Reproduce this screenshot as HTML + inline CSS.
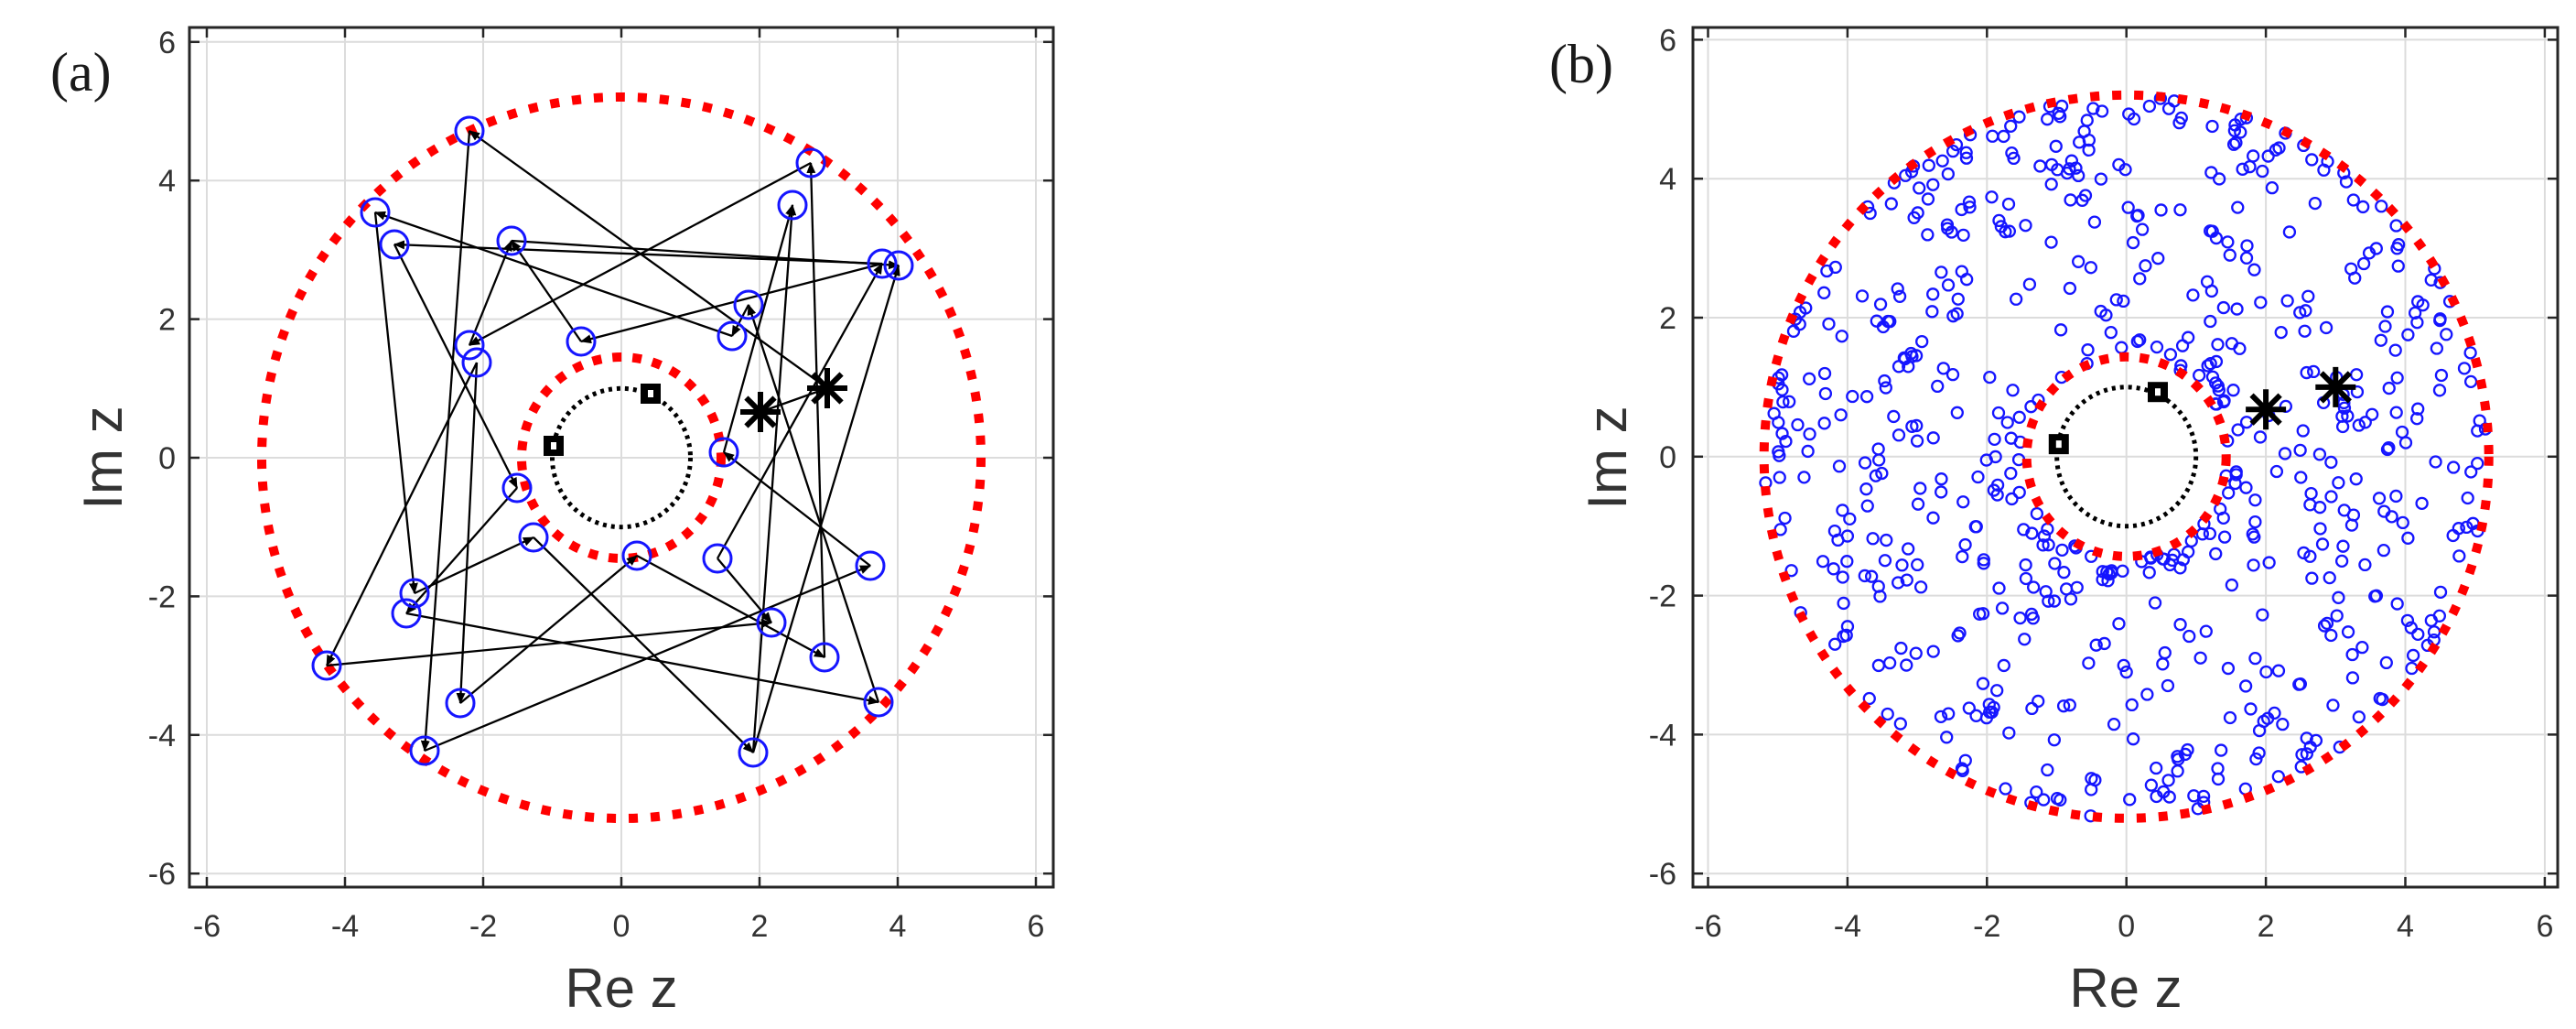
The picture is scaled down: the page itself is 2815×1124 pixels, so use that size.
<!DOCTYPE html>
<html><head><meta charset="utf-8"><style>
html,body{margin:0;padding:0;background:#fff;}
svg{display:block;}
text{font-family:"Liberation Sans",sans-serif;}
text.ser{font-family:"Liberation Serif",serif;}
</style></head><body>
<svg id="s" width="2815" height="1124" viewBox="0 0 2815 1124" xmlns="http://www.w3.org/2000/svg">
<defs>
<marker id="ah" markerWidth="12" markerHeight="10" refX="11" refY="5" orient="auto" markerUnits="userSpaceOnUse">
<path d="M0,0 L12,5 L0,10 z" fill="#000"/>
</marker>
</defs>
<rect width="2815" height="1124" fill="#fff"/>

<g id="gridA" stroke="#dcdcdc" stroke-width="2"></g>
<g id="ticksA" stroke="#262626" stroke-width="2.5"></g>
<rect x="207" y="30" width="944" height="939" fill="none" stroke="#262626" stroke-width="3"/>
<g id="labA" fill="#333" font-size="34"></g>
<text class="ser" x="55" y="99" font-size="60" fill="#1a1a1a">(a)</text>
<text transform="translate(133,500) rotate(-90)" text-anchor="middle" font-size="60" fill="#333">Im z</text>
<text x="679" y="1100" text-anchor="middle" font-size="60" fill="#333">Re z</text>

<ellipse cx="679" cy="500" rx="393" ry="394" fill="none" stroke="#ff0000" stroke-width="10" stroke-dasharray="10 14"/>
<ellipse cx="679" cy="500" rx="109" ry="110" fill="none" stroke="#ff0000" stroke-width="10" stroke-dasharray="10 12"/>
<ellipse cx="679" cy="500" rx="75.5" ry="75.7" fill="none" stroke="#000" stroke-width="5" stroke-dasharray="4 5"/>

<g id="edgesA" stroke="#000" stroke-width="2.3" marker-end="url(#ah)"></g>
<g id="circA" fill="none" stroke="#1515ff" stroke-width="3"></g>
<g id="markA"></g>

<g id="gridB" stroke="#dcdcdc" stroke-width="2"></g>
<g id="ticksB" stroke="#262626" stroke-width="2.5"></g>
<rect x="1850" y="30" width="945" height="939" fill="none" stroke="#262626" stroke-width="3"/>
<g id="labB" fill="#333" font-size="34"></g>
<text class="ser" x="1693" y="90" font-size="60" fill="#1a1a1a">(b)</text>
<text transform="translate(1777,500) rotate(-90)" text-anchor="middle" font-size="60" fill="#333">Im z</text>
<text x="2323" y="1100" text-anchor="middle" font-size="60" fill="#333">Re z</text>

<g id="circB" fill="none" stroke="#1515ff" stroke-width="2.3"></g>
<ellipse cx="2323.7" cy="498.8" rx="396" ry="395" fill="none" stroke="#ff0000" stroke-width="10" stroke-dasharray="10 14"/>
<ellipse cx="2323.7" cy="498.8" rx="109" ry="109" fill="none" stroke="#ff0000" stroke-width="10" stroke-dasharray="10 12"/>
<ellipse cx="2323.7" cy="498.8" rx="76" ry="76" fill="none" stroke="#000" stroke-width="5" stroke-dasharray="4 5"/>
<g id="markB"></g>
</svg>
<script>
(function(){
var NS="http://www.w3.org/2000/svg";
function el(p,t,a,txt){var e=document.createElementNS(NS,t);for(var k in a)e.setAttribute(k,a[k]);if(txt!==undefined)e.textContent=txt;document.getElementById(p).appendChild(e);return e;}
function axes(id,x0,ux,y0,uy,L,T,R,B,labR){
  for(var v=-6;v<=6;v+=2){
    var x=x0+v*ux,y=y0-v*uy;
    el('grid'+id,'line',{x1:x,y1:T,x2:x,y2:B});
    el('grid'+id,'line',{x1:L,y1:y,x2:R,y2:y});
    el('ticks'+id,'line',{x1:x,y1:B,x2:x,y2:B-11});
    el('ticks'+id,'line',{x1:x,y1:T,x2:x,y2:T+11});
    el('ticks'+id,'line',{x1:L,y1:y,x2:L+11,y2:y});
    el('ticks'+id,'line',{x1:R,y1:y,x2:R-11,y2:y});
    el('lab'+id,'text',{x:x,y:1023,'text-anchor':'middle'},String(v));
    el('lab'+id,'text',{x:labR,y:y+12,'text-anchor':'end'},String(v));
  }
}
axes('A',679,75.5,500,75.7,207,30,1151,969,192);
axes('B',2323.7,76.2,498.8,75.9,1850,30,2795,969,1832);

function star(p,cx,cy,r){
  for(var i=0;i<4;i++){var a=i*Math.PI/4;
    el(p,'line',{x1:cx-r*Math.cos(a),y1:cy-r*Math.sin(a),x2:cx+r*Math.cos(a),y2:cy+r*Math.sin(a),stroke:'#000','stroke-width':6});}
}
function sq(p,cx,cy){
  el(p,'rect',{x:cx-11,y:cy-11,width:22,height:22,fill:'#000'});
  el(p,'rect',{x:cx-3,y:cy-4,width:6,height:8,fill:'#fff'});
}
var C=[null,[513,143],[886,178],[410,232],[866,224],[431,267],[559,263],[964,288],[982,290],[818,333],[800,367],[635,373],[513,377],[521,396],[791,494],[565,533],[583,587],[696,607],[784,610],[951,618],[453,648],[444,670],[843,680],[901,718],[357,727],[503,768],[960,767],[464,820],[823,822]];
var S1=[831,450],S2=[904,424];
var E=[[S2,1],[1,27],[27,19],[19,14],[14,4],[10,3],[7,5],[6,8],[7,11],[2,12],[11,6],[3,20],[5,15],[23,2],[17,23],[25,17],[13,25],[24,22],[21,26],[20,16],[16,28],[28,8],[15,21],[18,22],[13,24],[26,9],[S1,S2],[9,10],[18,7],[28,4],[12,6]];
E.forEach(function(e){
  var a=(typeof e[0]==='number')?C[e[0]]:e[0];
  var b=(typeof e[1]==='number')?C[e[1]]:e[1];
  el('edgesA','line',{x1:a[0],y1:a[1],x2:b[0],y2:b[1]});
});
for(var i=1;i<C.length;i++) el('circA','circle',{cx:C[i][0],cy:C[i][1],r:15});
star('markA',S1[0],S1[1],22);star('markA',S2[0],S2[1],22);
sq('markA',711,430);sq('markA',605,487);

var seed=12345;function rnd(){seed=(seed*1103515245+12345)%2147483648;return seed/2147483648;}
var x0=2323.7,ux=76.2,y0=498.8,uy=75.9;
for(var k=0;k<640;k++){
  var u=rnd(),r;
  if(u<0.22) r=4.9+rnd()*0.3;
  else if(u<0.32) r=1.45+rnd()*0.25;
  else {var a1=1.7*1.7,a2=4.9*4.9;r=Math.sqrt(a1+rnd()*(a2-a1));}
  var th=rnd()*Math.PI*2;
  el('circB','circle',{cx:x0+r*Math.cos(th)*ux,cy:y0-r*Math.sin(th)*uy,r:6});
}
star('markB',x0+2*ux,y0-0.68*uy,22);star('markB',x0+3*ux,y0-1*uy,22);
sq('markB',x0+0.45*ux,y0-0.93*uy);sq('markB',x0-0.97*ux,y0-0.18*uy);
})();
</script>
</body></html>
